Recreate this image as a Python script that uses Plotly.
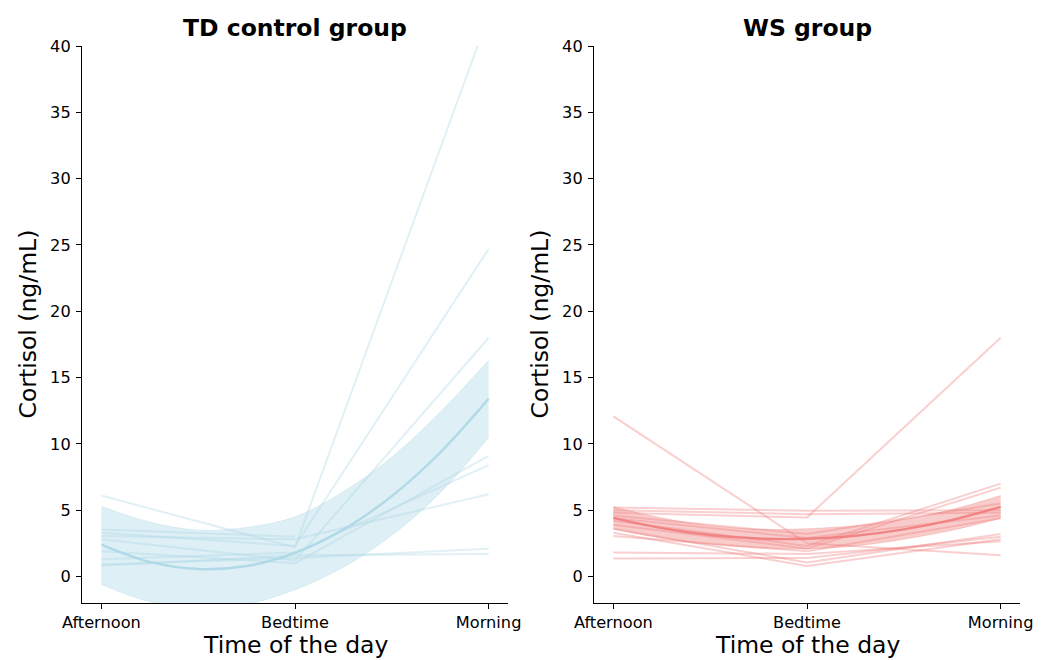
import plotly.graph_objects as go

# ---------------- data ----------------
times = ["Afternoon", "Bedtime", "Morning"]
time_pos = [0, 1, 2]

# TD control group: individual cortisol (ng/mL)
td_afternoon = [6.1, 3.55, 3.3, 3.05, 2.8, 1.9, 1.3, 0.9, 0.8]
td_bedtime = [2.2, 3.0, 2.3, 2.8, 1.2, 1.0, 1.8, 1.4, 1.6]
td_morning = [42.3, None, 24.7, 6.2, 18.0, 9.1, 8.4, 2.1, 1.7]

# WS group: individual cortisol (ng/mL)
ws_afternoon = [12.07, 5.2, 5.0, 4.8, 4.6, 4.4, 4.2, 3.9, 3.6, 3.3, 3.05, 1.8, 1.35]
ws_bedtime = [2.5, 4.95, 4.7, 4.45, 3.2, 2.9, 2.3, 2.1, 1.05, 0.8, 1.9, 1.7, 1.4]
ws_morning = [1.6, 5.0, 4.8, 18.0, 5.5, 4.6, 7.0, 6.7, 3.2, 2.8, 4.4, 2.66, 3.0]

# model curve + confidence band
fit_x = [0, 0.25, 0.5, 0.75, 1.0, 1.25, 1.5, 1.75, 2.0]
td_fit = [2.41, 1.10, 0.56, 0.79, 1.78, 3.54, 6.06, 9.35, 13.4]
td_upper = [5.3, 4.1, 3.5, 3.7, 4.5, 6.4, 9.0, 12.4, 16.3]
td_lower = [-0.6, -1.9, -2.4, -2.1, -1.0, 0.7, 3.1, 6.3, 10.5]

ws_fit = [4.42, 3.65, 3.13, 2.86, 2.84, 3.07, 3.55, 4.27, 5.25]
ws_upper = [5.26, 4.41, 3.83, 3.56, 3.60, 3.83, 4.29, 5.05, 6.10]
ws_lower = [3.58, 2.89, 2.43, 2.16, 2.08, 2.31, 2.81, 3.49, 4.38]

y_ticks = [0, 5, 10, 15, 20, 25, 30, 35, 40]

# ---------------- style ----------------
FONT = "DejaVu Sans"
TD_RGB = (173, 216, 230)   # lightblue
WS_RGB = (240, 128, 128)   # lightcoral


def rgba(c, a):
    return "rgba(%d,%d,%d,%.3f)" % (c[0], c[1], c[2], a)


fig = go.Figure()


def add_group(aft, bed, mor, fit, up, lo, col, xa, ya):
    for a, b, m in zip(aft, bed, mor):
        fig.add_trace(go.Scatter(
            x=time_pos, y=[a, b, m], mode="lines",
            line=dict(color=rgba(col, 0.38), width=2),
            xaxis=xa, yaxis=ya, showlegend=False, hoverinfo="skip"))
    fig.add_trace(go.Scatter(
        x=fit_x, y=up, mode="lines", line=dict(color=rgba(col, 0.4), width=0.8, shape="spline"),
        xaxis=xa, yaxis=ya, showlegend=False, hoverinfo="skip"))
    fig.add_trace(go.Scatter(
        x=fit_x, y=lo, mode="lines", line=dict(color=rgba(col, 0.4), width=0.8, shape="spline"),
        fill="tonexty", fillcolor=rgba(col, 0.4),
        xaxis=xa, yaxis=ya, showlegend=False, hoverinfo="skip"))
    fig.add_trace(go.Scatter(
        x=fit_x, y=fit, mode="lines", line=dict(color=rgba(col, 0.95), width=2.4, shape="spline"),
        xaxis=xa, yaxis=ya, showlegend=False, hoverinfo="skip"))


add_group(td_afternoon, td_bedtime, td_morning, td_fit, td_upper, td_lower, TD_RGB, "x", "y")
add_group(ws_afternoon, ws_bedtime, ws_morning, ws_fit, ws_upper, ws_lower, WS_RGB, "x2", "y2")

W, H = 1047, 660
OFF = 8  # page body margin


def px(x):
    return (x - OFF) / W


def py(y):
    return 1 - (y - OFF) / H


left_dom = [px(82), px(508)]
right_dom = [px(594), px(1020)]
y_dom = [py(603), py(46)]

xcommon = dict(range=[-0.1, 2.1], tickvals=time_pos, ticktext=times, showgrid=False,
               zeroline=False, showline=True, linecolor="black", linewidth=1.1,
               ticks="outside", ticklen=5, tickwidth=1.1, tickcolor="black", automargin=False,
               tickfont=dict(family=FONT, size=16.2, color="black"))
ycommon = dict(range=[-2, 40], tickvals=y_ticks, showgrid=False,
               zeroline=False, showline=True, linecolor="black", linewidth=1.1,
               ticks="outside", ticklen=5, tickwidth=1.1, tickcolor="black", automargin=False,
               ticklabelstandoff=2,
               tickfont=dict(family=FONT, size=16.2, color="black"))

fig.update_layout(
    width=W, height=H,
    margin=dict(l=0, r=0, t=0, b=0, pad=0),
    paper_bgcolor="white", plot_bgcolor="white",
    xaxis=dict(domain=left_dom, anchor="y", **xcommon),
    yaxis=dict(domain=y_dom, anchor="x", **ycommon),
    xaxis2=dict(domain=right_dom, anchor="y2", **xcommon),
    yaxis2=dict(domain=y_dom, anchor="x2", **ycommon),
)

ann = []
for cx, title in [(295, "TD control group"), (807, "WS group")]:
    ann.append(dict(text="<b>%s</b>" % title, x=px(cx), y=py(28), xref="paper", yref="paper",
                    xanchor="center", yanchor="middle", showarrow=False,
                    font=dict(family=FONT, size=23.5, color="black")))
    ann.append(dict(text="Time of the day", x=px(cx), y=py(645), xref="paper", yref="paper",
                    xanchor="center", yanchor="middle", showarrow=False,
                    font=dict(family=FONT, size=23.5, color="black")))
for lx in [28, 540]:
    ann.append(dict(text="Cortisol (ng/mL)", x=px(lx), y=py(324.5), xref="paper", yref="paper",
                    xanchor="center", yanchor="middle", textangle=-90, showarrow=False,
                    font=dict(family=FONT, size=23.5, color="black")))
fig.update_layout(annotations=ann)

fig.write_html("out.html")
